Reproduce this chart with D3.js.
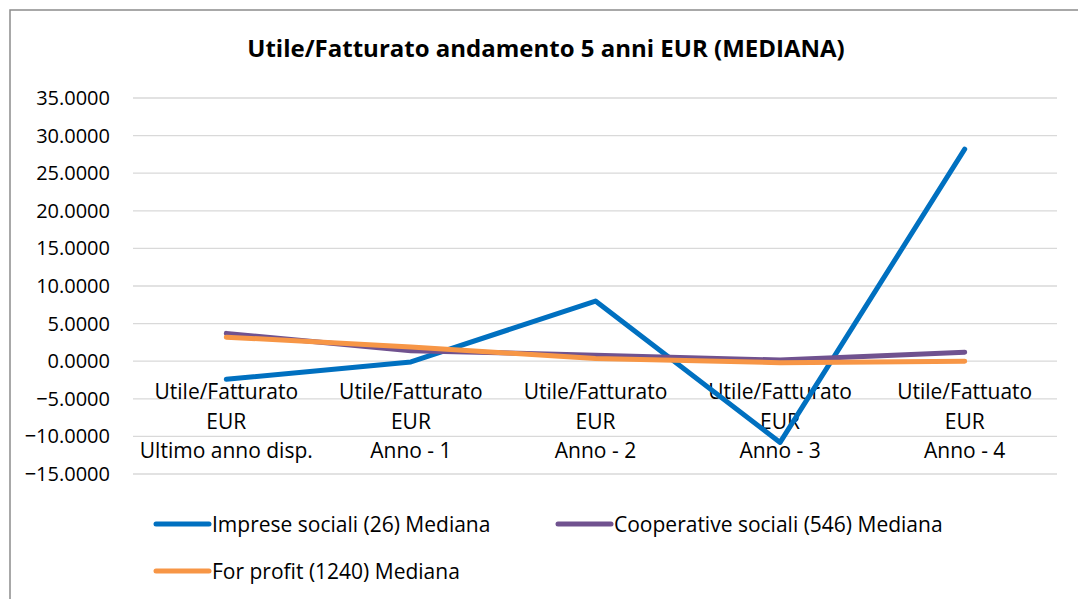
<!DOCTYPE html>
<html>
<head>
<meta charset="utf-8">
<script src="https://cdn.jsdelivr.net/npm/d3@7"></script>
<style>
  body { margin: 0; background: #fff; }
  svg text { font-family: "Open Sans", sans-serif; fill: #000; }
</style>
</head>
<body>
<div id="chart"></div>
<script>
// Chart data
const categories = ["cat0", "cat1", "cat2", "cat3", "cat4"];
const categoryLabels = [
    ["Utile/Fatturato", "EUR", "Ultimo anno disp."],
    ["Utile/Fatturato", "EUR", "Anno - 1"],
    ["Utile/Fatturato", "EUR", "Anno - 2"],
    ["Utile/Fatturato", "EUR", "Anno - 3"],
    ["Utile/Fattuato", "EUR", "Anno - 4"]
];
const seriesNames = [
    "Imprese sociali (26) Mediana",
    "Cooperative sociali (546) Mediana",
    "For profit (1240) Mediana"
];
const impreseSociali = [-2.4, -0.1, 8.0, -10.8, 28.2];
const cooperativeSociali = [3.7, 1.4, 0.8, 0.15, 1.2];
const forProfit = [3.2, 1.9, 0.35, -0.2, 0.0];
const yTicks = [35, 30, 25, 20, 15, 10, 5, 0, -5, -10, -15];
const colors = ["#0070C0", "#70528F", "#F79646"];

const width = 1078, height = 599;
const margin = { left: 134, right: 21, top: 98, bottom: 125 };

const svg = d3.select('#chart')
    .append('svg')
    .attr('width', width)
    .attr('height', height);

// Chart frame
svg.append('rect')
    .attr('x', 10).attr('y', 10)
    .attr('width', width + 20).attr('height', height + 20)
    .attr('fill', 'none')
    .attr('stroke', '#8c8c8c')
    .attr('stroke-width', 1.5);

// Title
svg.append('text')
    .attr('x', 546)
    .attr('y', 57)
    .attr('text-anchor', 'middle')
    .style('font-size', '24px')
    .style('font-weight', 'bold')
    .text('Utile/Fatturato andamento 5 anni EUR (MEDIANA)');

const x = d3.scaleBand()
    .domain(categories)
    .range([margin.left, width - margin.right]);

const y = d3.scaleLinear()
    .domain([-15, 35])
    .range([height - margin.bottom, margin.top]);

// Gridlines
svg.append('g')
    .selectAll('line')
    .data(yTicks)
    .enter().append('line')
    .attr('x1', margin.left - 1)
    .attr('x2', width - margin.right)
    .attr('y1', d => y(d))
    .attr('y2', d => y(d))
    .attr('stroke', '#d9d9d9')
    .attr('stroke-width', 1.3);

// Y axis labels
svg.append('g')
    .selectAll('text')
    .data(yTicks)
    .enter().append('text')
    .attr('x', 110)
    .attr('y', d => y(d) + 7)
    .attr('text-anchor', 'end')
    .style('font-size', '20px')
    .text(d => d3.format('.4f')(d));

// Category labels
const catGroup = svg.append('g')
    .selectAll('text')
    .data(categories)
    .enter().append('text')
    .attr('text-anchor', 'middle')
    .style('font-size', '21px');

catGroup.selectAll('tspan')
    .data((d, i) => categoryLabels[i].map(t => ({ t, c: d })))
    .enter().append('tspan')
    .attr('x', d => x(d.c) + x.bandwidth() / 2)
    .attr('y', (d, j) => 399 + j * 29.5)
    .text(d => d.t);

// Lines
const allSeries = [impreseSociali, cooperativeSociali, forProfit];
const line = d3.line()
    .x((d, i) => x(categories[i]) + x.bandwidth() / 2)
    .y(d => y(d));

svg.append('g')
    .selectAll('path')
    .data(allSeries)
    .enter().append('path')
    .attr('d', d => line(d))
    .attr('fill', 'none')
    .attr('stroke', (d, i) => colors[i])
    .attr('stroke-width', 5)
    .attr('stroke-linejoin', 'round')
    .attr('stroke-linecap', 'round');

// Legend
const legendPos = [
    { x: 156, y: 524 },
    { x: 558, y: 524 },
    { x: 156, y: 571 }
];
const legend = svg.append('g')
    .selectAll('g')
    .data(seriesNames)
    .enter().append('g')
    .attr('transform', (d, i) => `translate(${legendPos[i].x},${legendPos[i].y})`);

legend.append('line')
    .attr('x1', 0).attr('x2', 53)
    .attr('y1', 0).attr('y2', 0)
    .attr('stroke', (d, i) => colors[i])
    .attr('stroke-width', 5)
    .attr('stroke-linecap', 'round');

legend.append('text')
    .attr('x', 56)
    .attr('y', 7.5)
    .style('font-size', '21px')
    .text(d => d);
</script>
</body>
</html>
